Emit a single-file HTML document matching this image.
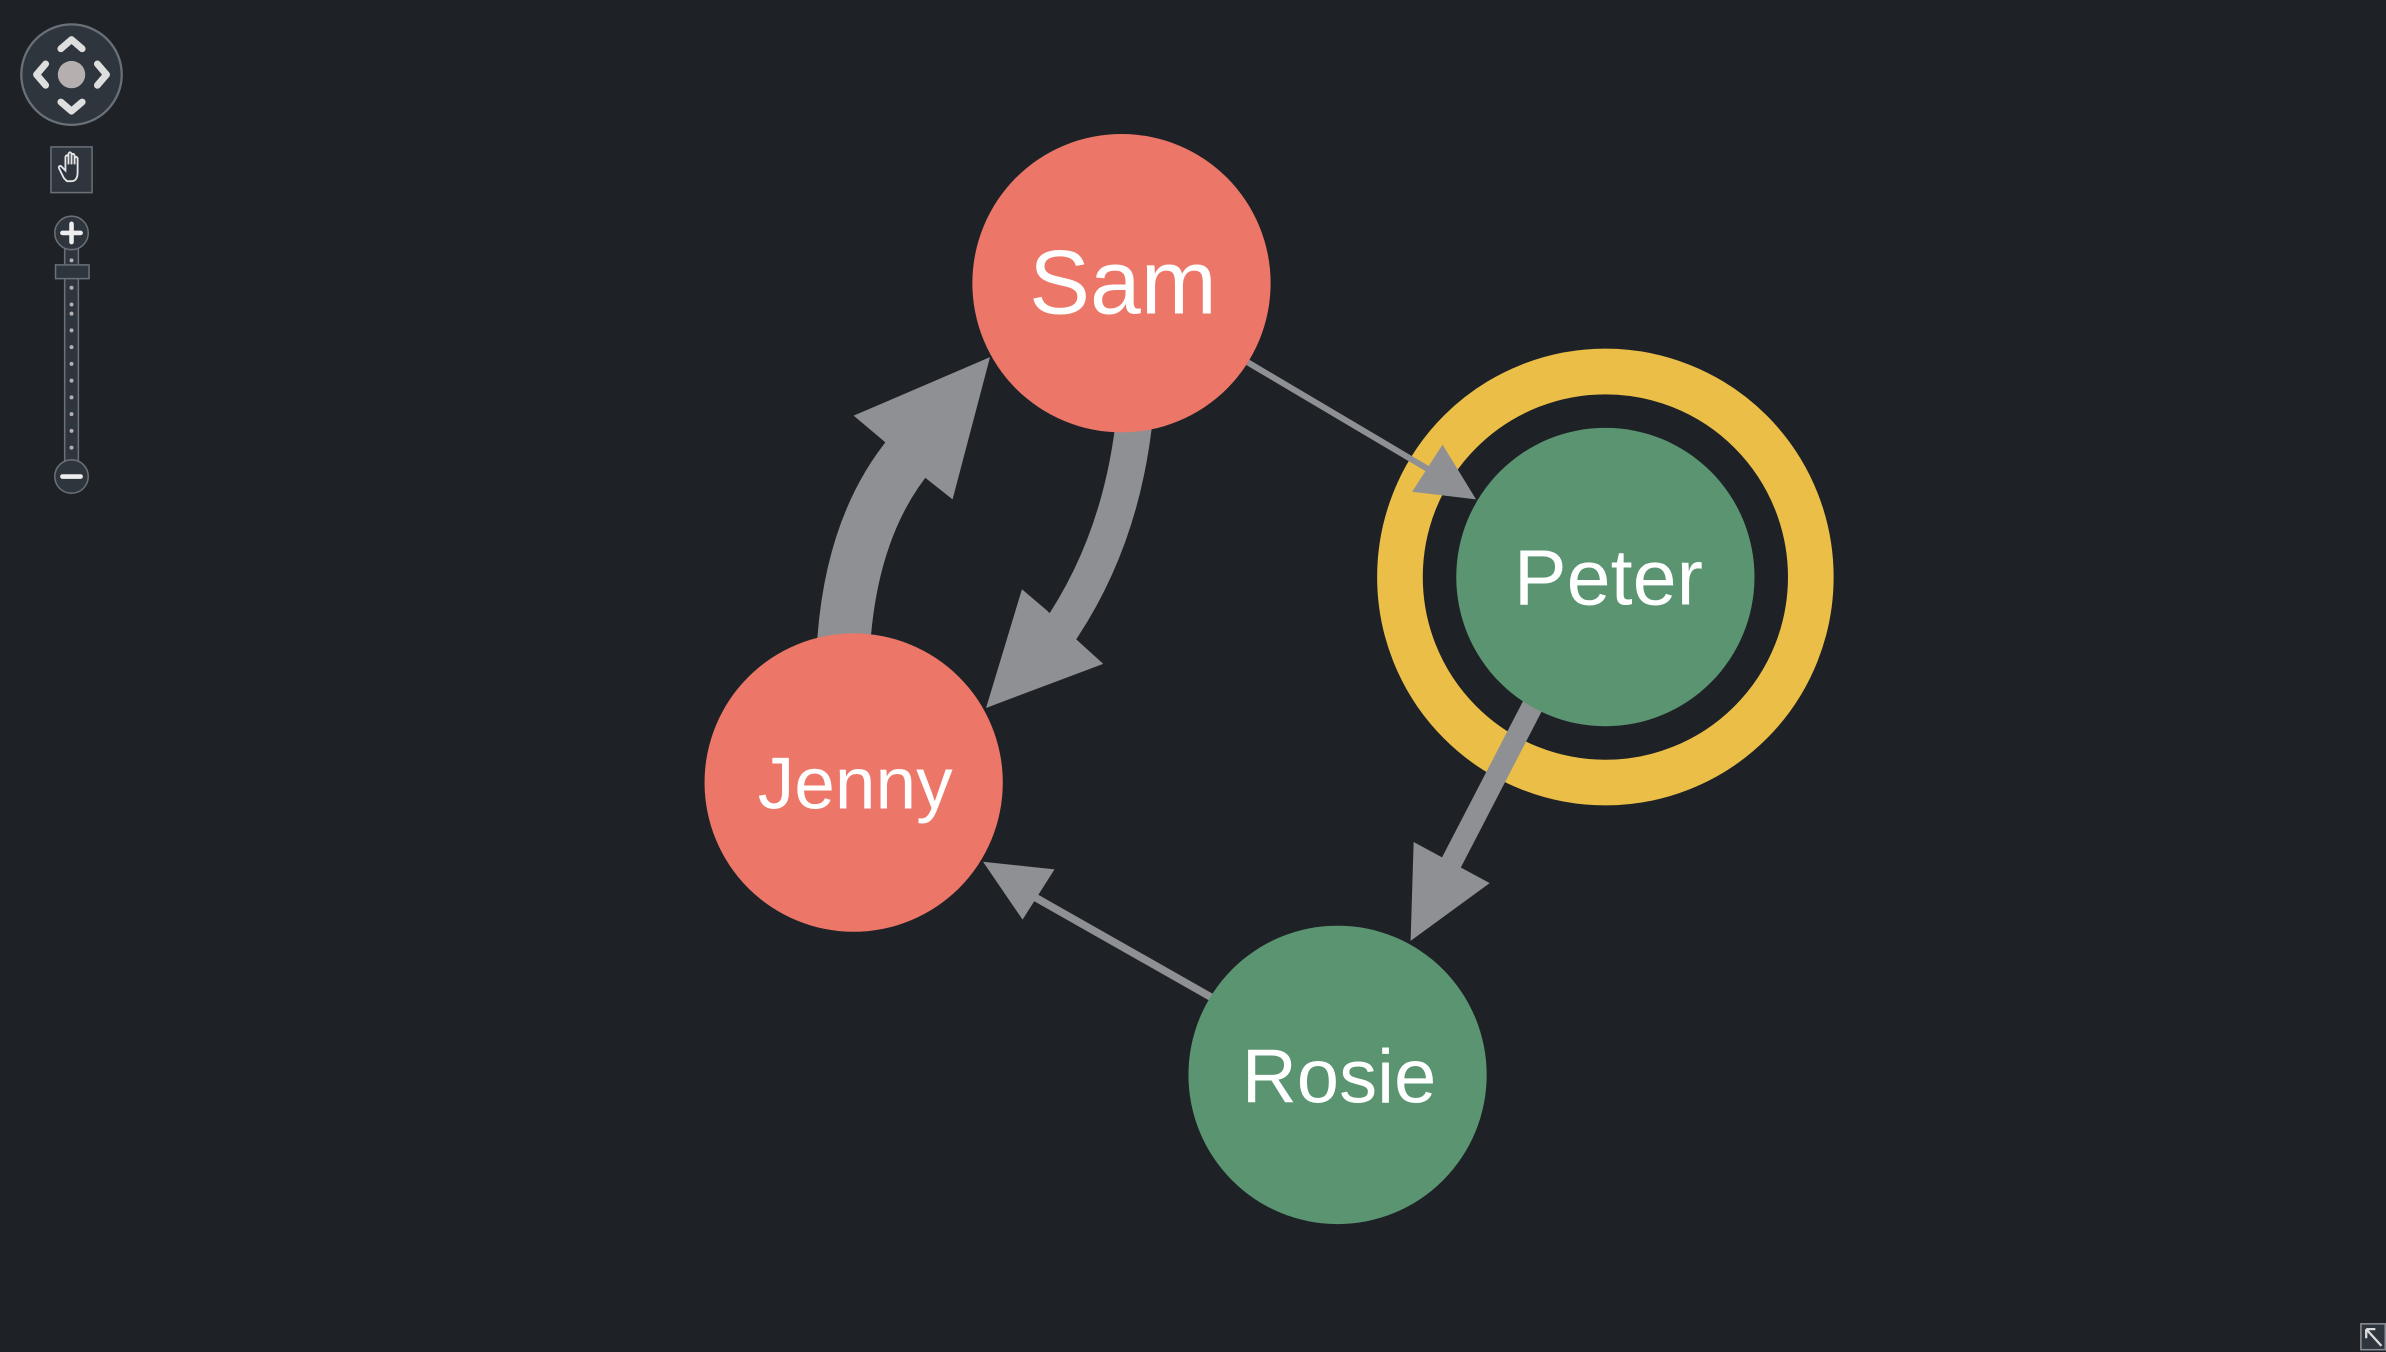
<!DOCTYPE html>
<html><head><meta charset="utf-8"><style>
html,body{margin:0;padding:0;background:#1e2226;}
svg{display:block;}
text{font-family:"Liberation Sans",Arial,sans-serif;fill:#fff;}
</style></head><body>
<svg width="2386" height="1352" viewBox="0 0 1568 888" preserveAspectRatio="none" xmlns="http://www.w3.org/2000/svg">
<rect width="1568" height="888" fill="#1e2226"/>
<circle cx="1055" cy="379" r="135" fill="none" stroke="#ebbe48" stroke-width="30"/>
<!-- edges -->
<g fill="#8f9094" stroke="none">
  <line x1="820" y1="238" x2="945" y2="312" stroke="#8f9094" stroke-width="4"/>
  <polygon points="970,328 928,323 948,292"/>
  <line x1="1008" y1="462" x2="952" y2="570" stroke="#8f9094" stroke-width="14"/>
  <polygon points="927,618 929,553 979,580"/>
  <line x1="796" y1="655" x2="676" y2="587" stroke="#8f9094" stroke-width="5"/>
  <polygon points="646,566 693,571 672,604"/>
  <path d="M554,430 Q558,345 600,296" fill="none" stroke="#8f9094" stroke-width="35"/>
  <polygon points="650.6,234.6 561,273 580,289 607,313 626,328"/>
  <path d="M746,270 Q738,355 694,418" fill="none" stroke="#8f9094" stroke-width="24"/>
  <polygon points="648,465 671.6,387 688,401 708,420.6 725,436"/>
</g>
<!-- nodes -->
<circle cx="737" cy="186" r="98" fill="#ec7769"/>
<text x="738" y="206" font-size="60" text-anchor="middle">Sam</text>
<circle cx="1055" cy="379" r="98" fill="#5a9470"/>
<text x="1057" y="397" font-size="52" text-anchor="middle">Peter</text>
<circle cx="561" cy="514" r="98" fill="#ec7769"/>
<text x="562" y="531" font-size="48" text-anchor="middle">Jenny</text>
<circle cx="879" cy="706" r="98" fill="#5a9470"/>
<text x="880" y="724" font-size="50" text-anchor="middle">Rosie</text>
<!-- controls -->
<circle cx="47" cy="49" r="33" fill="#2e353d" stroke="#6a7077" stroke-width="1.5"/>
<g fill="none" stroke="#dedede" stroke-width="4.5" stroke-linecap="round" stroke-linejoin="round">
  <polyline points="40,32 47,26 54,32"/>
  <polyline points="40,67 47,73 54,67"/>
  <polyline points="30,42 24,49 30,56"/>
  <polyline points="64,42 70,49 64,56"/>
</g>
<circle cx="47" cy="49" r="9" fill="#b5afb0"/>
<rect x="33.5" y="96.5" width="27" height="30" fill="#2e353d" stroke="#6a7077" stroke-width="1"/>
<path d="M42,117 L39,111 Q38,109 40,109 L43,112 L43,103 Q44,101 45,103 L45,108 L45,101 Q46,99 47,101 L47,108 L47,102 Q48,100 49,102 L49,108 L49,104 Q50,102 51,104 L51,113 Q51,119 47,119 L44,119 Z" fill="none" stroke="#e6e6e6" stroke-width="1.2"/>
<rect x="42.5" y="160" width="9" height="145" fill="#2e353d" stroke="#6a7077" stroke-width="1"/>
<g fill="#b5afb0">
  <circle cx="47" cy="171" r="1.3"/><circle cx="47" cy="189" r="1.3"/><circle cx="47" cy="206" r="1.3"/><circle cx="47" cy="217" r="1.3"/><circle cx="47" cy="228" r="1.3"/><circle cx="47" cy="239" r="1.3"/><circle cx="47" cy="250" r="1.3"/><circle cx="47" cy="261" r="1.3"/><circle cx="47" cy="272" r="1.3"/><circle cx="47" cy="283" r="1.3"/><circle cx="47" cy="294" r="1.3"/><circle cx="47" cy="200" r="1.3"/>
</g>
<circle cx="47" cy="153" r="11" fill="#2e353d" stroke="#6a7077" stroke-width="1"/>
<path d="M41,153 H53 M47,147 V159" stroke="#eeeeee" stroke-width="3" stroke-linecap="round"/>
<rect x="36.5" y="174" width="22" height="9" fill="#2e353d" stroke="#6a7077" stroke-width="1"/>
<circle cx="47" cy="313" r="11" fill="#2e353d" stroke="#6a7077" stroke-width="1"/>
<path d="M41,313 H53" stroke="#eeeeee" stroke-width="3" stroke-linecap="round"/>
<rect x="1551.5" y="869.5" width="16" height="17" fill="#2e353d" stroke="#8a8f95" stroke-width="1"/>
<path d="M1555,873 L1565,884 M1555,873 V879 M1555,873 H1561" stroke="#dddddd" stroke-width="1.5" fill="none"/>
</svg>
</body></html>
